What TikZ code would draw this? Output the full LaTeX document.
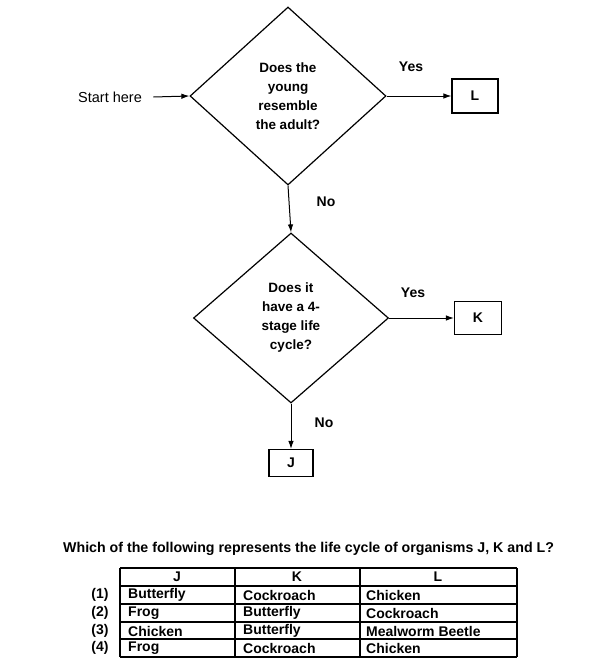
\documentclass[tikz,border=0pt]{standalone}
\usepackage{fontspec}
\setmainfont{Liberation Sans}
\usetikzlibrary{shapes.geometric,arrows.meta}

\begin{document}
\begin{tikzpicture}[x=1pt,y=-1pt,
        every node/.style={font=\fontsize{14}{19}\selectfont\bfseries},
        decision/.style={diamond,draw,line width=1.2pt,inner sep=0pt,align=center,
            font=\fontsize{13.5}{19}\selectfont\bfseries},
        result/.style={draw,line width=1.1pt,inner sep=0pt},
        flow/.style={-{Latex[length=8pt,width=5.5pt]},line width=1pt},
        cell/.style={anchor=west,inner sep=0pt},
        grid/.style={line width=1.3pt}]
        \useasboundingbox (0,0) rectangle (599,661);
        % flowchart
        \node[font=\fontsize{14.5}{16}\selectfont] (start) at (110,97) {Start here};
        \node[decision,minimum width=196pt,minimum height=178pt] (q1) at (288,96)
            {Does the\\young\\resemble\\the adult?};
        \node[result,minimum width=46pt,minimum height=34pt] (L) at (475,96) {L};
        \node[decision,minimum width=195pt,minimum height=170pt] (q2) at (291,318)
            {Does it\\have a 4-\\stage life\\cycle?};
        \node[result,minimum width=47pt,minimum height=33pt] (K) at (478,318) {K};
        \node[result,minimum width=44pt,minimum height=27pt] (J) at (291,463) {J};
        \node (yes1) at (411,67) {Yes};
        \node (no1) at (326,202) {No};
        \node (yes2) at (413,293) {Yes};
        \node (no2) at (324,423) {No};
        \draw[flow] ([xshift=8pt]start.east) -- (q1.west);
        \draw[flow] (q1.east) -- (L.west);
        \draw[flow] (q1.south) -- (q2.north);
        \draw[flow] (q2.east) -- (K.west);
        \draw[flow] (q2.south) -- (J.north);
        % question and table
        \node[anchor=west,inner sep=0pt,font=\fontsize{14.2}{19}\selectfont\bfseries] (ask) at (63,549)
            {Which of the following represents the life cycle of organisms J, K and L?};
        \foreach \y in {568,586,604,622,639,657}
            \draw[grid] (120,\y) -- (517,\y);
        \foreach \x in {120,235,360,517}
            \draw[grid] (\x,568) -- (\x,657);
        \node (hJ) at (177,577) {J};
        \node (hK) at (297,577) {K};
        \node (hL) at (438,577) {L};
        \foreach \y/\n/\a/\b/\c in {595/1/Butterfly/Cockroach/Chicken,
                613/2/Frog/Butterfly/Cockroach,
                631/3/Chicken/Butterfly/Mealworm Beetle,
                648/4/Frog/Cockroach/Chicken}
        {
            \node (opt\n) at (100,\y) {(\n)};
            \node[cell] (j\n) at (128,\y) {\a};
            \node[cell] (k\n) at (243,\y) {\b};
            \node[cell] (l\n) at (366,\y) {\c};
        }
    \end{tikzpicture}
\end{document}
